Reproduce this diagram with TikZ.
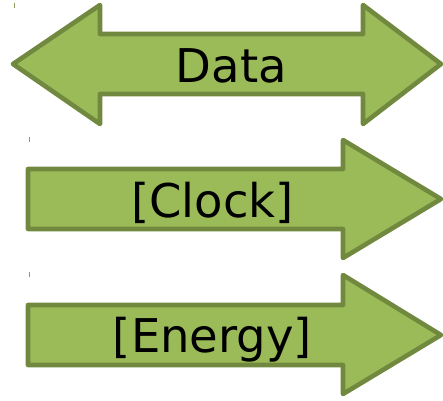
\documentclass[tikz,border=0pt]{standalone}
\usepackage{fontspec}
\setmainfont{DejaVu Sans}
\definecolor{arrowfill}{HTML}{9BBB59}
\definecolor{arrowline}{HTML}{71893F}
\begin{document}
\begin{tikzpicture}[x=1pt,y=-1pt,
  arrowshape/.style={fill=arrowfill,draw=arrowline,line width=4.6pt,line join=round},
  arrowlabel/.style={font=\fontsize{46.5}{56}\selectfont,anchor=base,inner sep=0pt,text=black},
  tickmark/.style={draw=arrowline!85,line width=0.9pt}]
\useasboundingbox (0,0) rectangle (443,400);
% small tick marks
\draw[tickmark] (14,3) -- (14,8);
\draw[tickmark] (29,137) -- (29,142);
\draw[tickmark] (29,272) -- (29,277);
% two-headed data arrow
\draw[arrowshape] (13,64) -- (100,5) -- (100,34) -- (363,34) -- (363,5)
  -- (441,64) -- (363,124) -- (363,94) -- (100,94) -- (100,124) -- cycle;
\node[arrowlabel] (data) at (231.5,82) {Data};
% clock arrow
\draw[arrowshape] (28,169) -- (343,169) -- (343,140) -- (441,199)
  -- (343,258) -- (343,229) -- (28,229) -- cycle;
\node[arrowlabel] (clock) at (212.5,217) {[Clock]};
% energy arrow
\draw[arrowshape] (28,305) -- (343,305) -- (343,275) -- (441,335)
  -- (343,394) -- (343,365) -- (28,365) -- cycle;
\node[arrowlabel] (energy) at (212.5,352) {[Energy]};
\end{tikzpicture}
\end{document}
